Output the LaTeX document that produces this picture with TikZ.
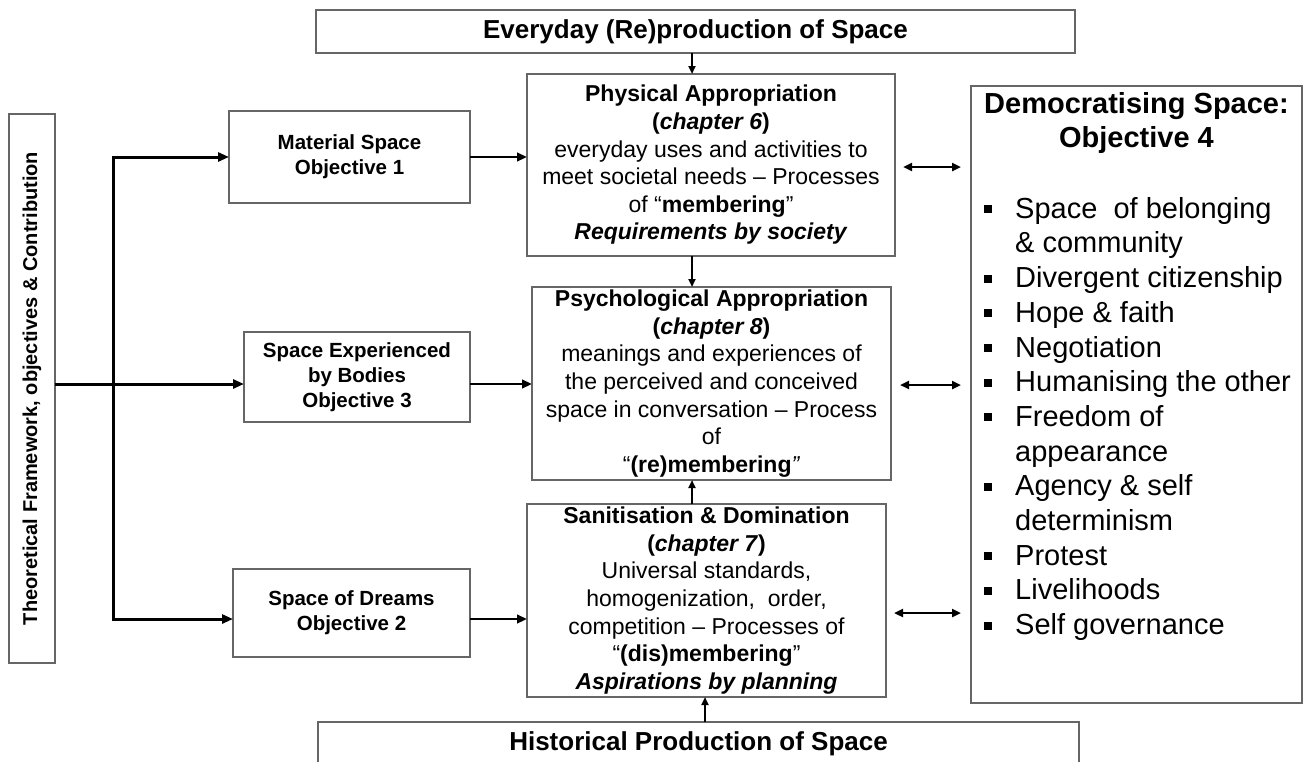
\documentclass[tikz,border=0pt]{standalone}
\usepackage{fontspec}
\setmainfont{Liberation Sans}
\usepackage{graphicx}
\usetikzlibrary{arrows.meta}
\newcommand{\lstbul}{\makebox[31pt][l]{\raisebox{5pt}{\rule{8pt}{8pt}}}}
\newcommand{\lstind}{\hspace*{31pt}}
\begin{document}
\begin{tikzpicture}[x=1pt,y=-1pt,
  box/.style={draw=black!60, line width=1.3pt, inner sep=0pt, outer sep=0pt, align=center, fill=white},
  midtxt/.style={font={\fontsize{23}{27.6}\selectfont}},
  objtxt/.style={font={\fontsize{20.5}{25}\selectfont\bfseries}},
  bigtxt/.style={font={\fontsize{26}{30}\selectfont\bfseries}},
  trunk/.style={line width=3pt, line join=miter},
  bigtip/.style={-{Triangle[length=11pt,width=9pt]}},
  midarr/.style={line width=2.6pt, -{Triangle[length=10pt,width=8.5pt]}},
  vsarr/.style={line width=2pt, -{Triangle[length=8pt,width=7pt]}},
  dbl/.style={line width=2.7pt, {Triangle[length=9pt,width=8pt]}-{Triangle[length=9pt,width=8pt]}}
]
\useasboundingbox (0,0) rectangle (1304,761);
\clip (0,0) rectangle (1304,761);

% top and bottom bands
\node[box, bigtxt, minimum width=759, minimum height=43] (top) at (695.5,31.5) {Everyday (Re)production of Space};
\node[box, bigtxt, minimum width=761, minimum height=43] (hist) at (698.5,743.5) {Historical Production of Space};

% left framework box
\node[box, minimum width=46, minimum height=549] (left) at (32,388.5)
  {\rotatebox{90}{\fontsize{20}{24}\selectfont\bfseries Theoretical Framework, objectives \& Contribution}};

% objective boxes
\node[box, objtxt, minimum width=241, minimum height=92] (mat) at (349.5,157) {Material Space\\Objective 1};
\node[box, objtxt, minimum width=226, minimum height=90] (exp) at (357,377) {Space Experienced\\by Bodies\\Objective 3};
\node[box, objtxt, minimum width=237, minimum height=88] (dream) at (351.5,613) {Space of Dreams\\Objective 2};

% middle boxes
\node[box, midtxt, minimum width=368, minimum height=182] (phys) at (711,165)
  {\textbf{Physical Appropriation}\\
   \textbf{(\textit{chapter 6})}\\
   everyday uses and activities to\\
   meet societal needs -- Processes\\
   of “\textbf{membering}”\\
   \textbf{\textit{Requirements by society}}};
\node[box, midtxt, minimum width=359, minimum height=193] (psych) at (711.5,383.5)
  {\textbf{Psychological Appropriation}\\
   \textbf{(\textit{chapter 8})}\\
   meanings and experiences of\\
   the perceived and conceived\\
   space in conversation -- Process\\
   of\\
   “\textbf{(re)membering}\textit{”}};
\node[box, midtxt, minimum width=359, minimum height=193] (sanit) at (706.5,600.5)
  {\textbf{Sanitisation \& Domination}\\
   \textbf{(\textit{chapter 7})}\\
   Universal standards,\\
   homogenization,\ \ order,\\
   competition -- Processes of\\
   “\textbf{(dis)membering}”\\
   \textbf{\textit{Aspirations by planning}}};

% right box
\node[box, minimum width=331, minimum height=617] (right) at (1136.5,394.5) {};
\node[align=center, inner sep=0pt, font={\fontsize{29}{34}\selectfont\bfseries}] (rhead) at (1136.5,123)
  {Democratising Space:\\Objective 4};
\node[align=left, inner sep=0pt, anchor=north west, font={\fontsize{29}{34.7}\selectfont}] (rlist) at (984,197)
  {\lstbul Space\ \ of belonging\\
   \lstind\& community\\
   \lstbul Divergent citizenship\\
   \lstbul Hope \& faith\\
   \lstbul Negotiation\\
   \lstbul Humanising the other\\
   \lstbul Freedom of\\
   \lstind appearance\\
   \lstbul Agency \& self\\
   \lstind determinism\\
   \lstbul Protest\\
   \lstbul Livelihoods\\
   \lstbul Self governance};

% helper coordinates
\coordinate (tTop) at (113,157);
\coordinate (tBot) at (113,619);
\coordinate (yMid) at (0,384);
\coordinate (yLow) at (0,619);
\coordinate (cA) at (692,0);
\coordinate (cB) at (705,0);
\coordinate (d1) at (0,167);
\coordinate (d2) at (0,385);
\coordinate (d3) at (0,613);

% trunk
\draw[trunk, {Triangle[length=11pt,width=9pt]}-{Triangle[length=11pt,width=9pt]}]
  (mat.west) -- (tTop) -- (tBot) -- (dream.west |- tBot);
\draw[trunk, bigtip] (left.east |- yMid) -- (exp.west |- yMid);

% objectives to middle
\draw[midarr] (mat.east) -- (phys.west |- mat.east);
\draw[midarr] (exp.east |- yMid) -- (psych.west |- yMid);
\draw[midarr] (dream.east |- yLow) -- (sanit.west |- yLow);

% vertical arrows
\draw[vsarr] (top.south -| cA) -- (phys.north -| cA);
\draw[vsarr] (phys.south -| cA) -- (psych.north -| cA);
\draw[vsarr] (sanit.north -| cA) -- (psych.south -| cA);
\draw[vsarr] (hist.north -| cB) -- (sanit.south -| cB);

% double arrows to right box
\draw[dbl, shorten <=8pt, shorten >=10pt] (phys.east |- d1) -- (right.west |- d1);
\draw[dbl, shorten <=9pt, shorten >=10pt] (psych.east |- d2) -- (right.west |- d2);
\draw[dbl, shorten <=8pt, shorten >=10pt] (sanit.east |- d3) -- (right.west |- d3);
\end{tikzpicture}
\end{document}
